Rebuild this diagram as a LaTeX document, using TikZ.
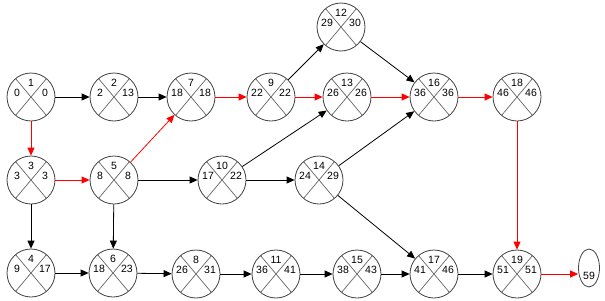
\documentclass[tikz,border=0pt]{standalone}
\usepackage{fontspec}
\setmainfont{Liberation Sans}
\usetikzlibrary{arrows.meta,shapes.geometric}
\tikzset{
  evc/.style={circle,draw=black!75,line width=0.8pt,minimum size=48pt,inner sep=0pt,fill=white},
  evx/.style={draw=black!60,line width=0.7pt},
  evt/.style={inner sep=0pt,font=\fontsize{10.5}{12}\selectfont},
  blk/.style={draw=black,line width=0.8pt,-{Triangle[length=8pt,width=7pt]}},
  crit/.style={draw=red,line width=0.8pt,-{Triangle[length=8pt,width=7pt]}}
}
\newcommand\evnode[6]{%
  \node[evc] (#1) at (#2,#3) {};
  \draw[evx] (#1.130) -- (#1.310) (#1.50) -- (#1.230);
  \node[evt] (#1t) at ([shift={(0,-14)}]#1.center) {#4};
  \node[evt] (#1l) at ([shift={(-14,-4)}]#1.center) {#5};
  \node[evt] (#1r) at ([shift={(14,-4)}]#1.center) {#6};
}
\begin{document}
\begin{tikzpicture}[x=1pt,y=-1pt]
\useasboundingbox (0,0) rectangle (605,300);
\evnode{n1}{31}{97}{1}{0}{0}
\evnode{n2}{114}{97}{2}{2}{13}
\evnode{n7}{191}{97}{7}{18}{18}
\evnode{n9}{271}{97}{9}{22}{22}
\evnode{n12}{341}{27}{12}{29}{30}
\evnode{n13}{347}{97}{13}{26}{26}
\evnode{n16}{434}{97}{16}{36}{36}
\evnode{n18}{517}{97}{18}{46}{46}
\evnode{n3}{31}{180}{3}{3}{3}
\evnode{n5}{114}{180}{5}{8}{8}
\evnode{n10}{222}{180}{10}{17}{22}
\evnode{n14}{319}{180}{14}{24}{29}
\evnode{n4}{31}{273}{4}{9}{17}
\evnode{n6}{113}{273}{6}{18}{23}
\evnode{n8}{196}{274}{8}{26}{31}
\evnode{n11}{276}{274}{11}{36}{41}
\evnode{n15}{357}{274}{15}{38}{43}
\evnode{n17}{434}{274}{17}{41}{46}
\evnode{n19}{517}{274}{19}{51}{51}
\node[ellipse,draw=black!75,line width=0.8pt,minimum width=21pt,minimum height=38pt,inner sep=0pt] (e59) at (589,268) {};
\node[evt] (e59t) at (589,276) {59};
% connectors
\draw[blk] (n1) -- (n2);
\draw[crit] (n1) -- (n3);
\draw[blk] (n2) -- (n7);
\draw[crit] (n3) -- (n5);
\draw[blk] (n3) -- (n4);
\draw[crit] (n5) -- (n7);
\draw[blk] (n5) -- (n10);
\draw[blk] (n5) -- (n6);
\draw[blk] (n4) -- (n6);
\draw[blk] (n6) -- (n8);
\draw[crit] (n7) -- (n9);
\draw[blk] (n9) -- (n12);
\draw[crit] (n9) -- (n13);
\draw[blk] (n10) -- (n13);
\draw[blk] (n10) -- (n14);
\draw[blk] (n12) -- (n16);
\draw[crit] (n13) -- (n16);
\draw[blk] (n14) -- (n16);
\draw[blk] (n14) -- (n17);
\draw[crit] (n16) -- (n18);
\draw[crit] (n18) -- (n19);
\draw[blk] (n8) -- (n11);
\draw[blk] (n11) -- (n15);
\draw[blk] (n15) -- (n17);
\draw[blk] (n17) -- (n19);
\draw[crit] (n19) -- (n19 -| e59.west);
\end{tikzpicture}
\end{document}
